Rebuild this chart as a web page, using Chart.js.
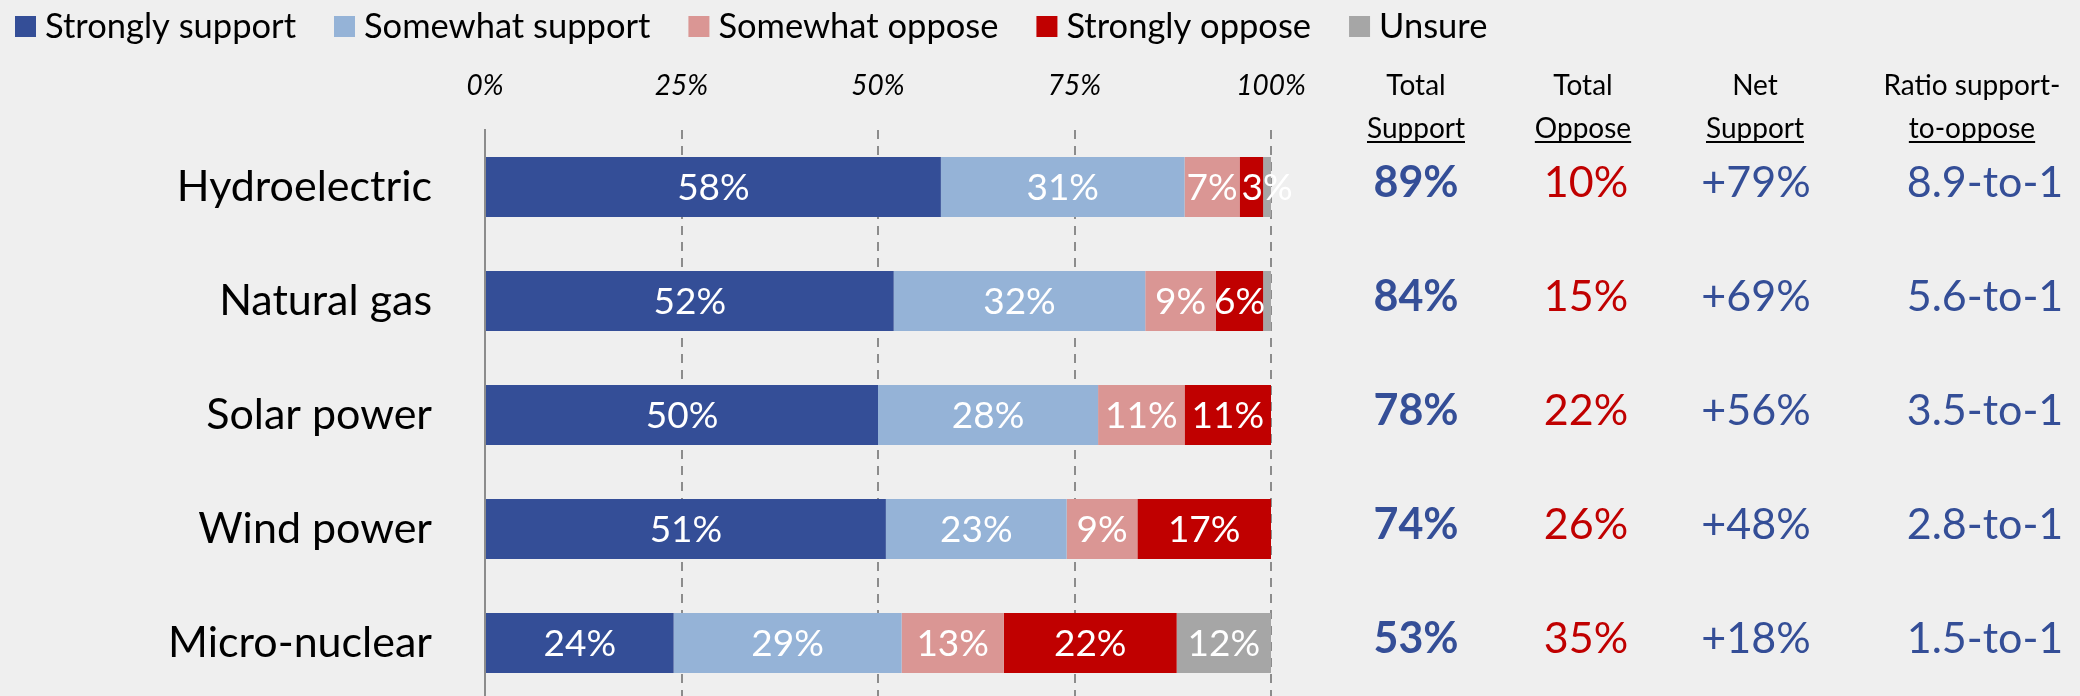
<!DOCTYPE html>
<html>
<head>
<meta charset="utf-8">
<script src="https://cdn.jsdelivr.net/npm/chart.js@4.4.1/dist/chart.umd.min.js"></script>
<style>
  html, body { margin: 0; padding: 0; background: #efefef; overflow: hidden; }
</style>
</head>
<body>
<canvas id="energy-bar" width="2080" height="700"></canvas>
<script>
var categories = ['Hydroelectric', 'Natural gas', 'Solar power', 'Wind power', 'Micro-nuclear'];
var strongSupport = [58, 52, 50, 51, 24];
var someSupport = [31, 32, 28, 23, 29];
var someOppose = [7, 9, 11, 9, 13];
var strongOppose = [3, 6, 11, 17, 22];
var unsure = [1, 1, 0, 0, 12];
var tickStep = 25;
var columnHeaders = [['Total', 'Support'], ['Total', 'Oppose'], ['Net', 'Support'], ['Ratio support-', 'to-oppose']];

var seriesNames = ['Strongly support', 'Somewhat support', 'Somewhat oppose', 'Strongly oppose', 'Unsure'];
var seriesColors = ['#344e97', '#95b3d7', '#da9694', '#c00000', '#a6a6a6'];
var blue = '#344e97';
var red = '#c00000';
var font = "Lato, 'Noto Sans', sans-serif";

var seriesData = [strongSupport, someSupport, someOppose, strongOppose, unsure];

// summary columns on the right
var totalSupport = [], totalOppose = [], netSupport = [], ratio = [];
categories.forEach(function (c, i) {
    var s = strongSupport[i] + someSupport[i];
    var o = someOppose[i] + strongOppose[i];
    totalSupport.push(s + '%');
    totalOppose.push(o + '%');
    netSupport.push((s - o >= 0 ? '+' : '') + (s - o) + '%');
    ratio.push((s / o).toFixed(1) + '-to-1');
});
var columns = [
    { values: totalSupport, color: blue, bold: true, x: 1416 },
    { values: totalOppose, color: red, bold: false, x: 1586 },
    { values: netSupport, color: blue, bold: false, x: 1756 },
    { values: ratio, color: blue, bold: false, x: 1985 }
];
var headerX = [1416, 1583, 1755, 1972];

var legendPlugin = {
    id: 'topLegend',
    afterDraw: function (chart) {
        var ctx = chart.ctx;
        var x = 15;
        ctx.save();
        ctx.font = '34.5px ' + font;
        ctx.textBaseline = 'middle';
        ctx.textAlign = 'left';
        chart.data.datasets.forEach(function (ds) {
            ctx.fillStyle = ds.backgroundColor;
            ctx.fillRect(x, 16, 21, 21);
            ctx.fillStyle = '#000';
            ctx.fillText(ds.label, x + 30, 27);
            x += 30 + ctx.measureText(ds.label).width + 38;
        });
        ctx.restore();
    }
};

var barLabelPlugin = {
    id: 'barLabels',
    afterDatasetsDraw: function (chart) {
        var ctx = chart.ctx;
        ctx.save();
        ctx.font = '37px ' + font;
        ctx.fillStyle = '#fff';
        ctx.textBaseline = 'middle';
        chart.data.datasets.forEach(function (ds, d) {
            chart.getDatasetMeta(d).data.forEach(function (bar, i) {
                var v = ds.data[i];
                if (v < 3) return;
                var txt = v + '%';
                var seg = bar.x - bar.base;
                if (ctx.measureText(txt).width > seg * 1.5) {
                    // too narrow: start the label at the segment's left edge
                    ctx.textAlign = 'left';
                    ctx.fillText(txt, bar.base + 2, bar.y + 1);
                } else {
                    ctx.textAlign = 'center';
                    ctx.fillText(txt, (bar.x + bar.base) / 2, bar.y + 1);
                }
            });
        });
        ctx.restore();
    }
};

var columnsPlugin = {
    id: 'summaryColumns',
    afterDraw: function (chart) {
        var ctx = chart.ctx;
        var top = chart.chartArea.top;
        var yScale = chart.scales.y;
        ctx.save();
        ctx.textAlign = 'center';
        ctx.textBaseline = 'middle';
        ctx.font = '28px ' + font;
        ctx.fillStyle = '#000';
        ctx.strokeStyle = '#000';
        ctx.lineWidth = 2;
        columnHeaders.forEach(function (h, c) {
            ctx.fillText(h[0], headerX[c], top - 44);
            ctx.fillText(h[1], headerX[c], top - 1);
            var w = ctx.measureText(h[1]).width;
            ctx.beginPath();
            ctx.moveTo(headerX[c] - w / 2, top + 12);
            ctx.lineTo(headerX[c] + w / 2, top + 12);
            ctx.stroke();
        });
        columns.forEach(function (col) {
            ctx.font = (col.bold ? 'bold ' : '') + '43px ' + font;
            ctx.fillStyle = col.color;
            col.values.forEach(function (v, i) {
                ctx.fillText(v, col.x, yScale.getPixelForValue(i) - 4);
            });
        });
        ctx.restore();
    }
};

var ctx = document.getElementById('energy-bar').getContext('2d');
var chart = new Chart(ctx, {
    type: 'bar',
    data: {
        labels: categories,
        datasets: seriesNames.map(function (name, k) {
            return {
                label: name,
                data: seriesData[k],
                backgroundColor: seriesColors[k],
                borderWidth: 0,
                barPercentage: 1,
                categoryPercentage: 0.526
            };
        })
    },
    options: {
        indexAxis: 'y',
        responsive: false,
        animation: false,
        layout: { padding: { left: 0, right: 809, top: 0, bottom: 0 } },
        plugins: {
            legend: { display: false },
            tooltip: { enabled: false }
        },
        scales: {
            x: {
                position: 'top',
                stacked: true,
                min: 0,
                max: 100,
                ticks: {
                    stepSize: tickStep,
                    padding: 27,
                    color: '#000',
                    font: { family: font, size: 28, style: 'italic' },
                    callback: function (v) { return v + '%'; }
                },
                grid: {
                    drawTicks: false,
                    lineWidth: 2,
                    color: function (c) { return c.tick && c.tick.value === 0 ? 'rgba(0,0,0,0)' : '#8c8c8c'; }
                },
                border: { display: false, dash: [9, 7] },
                afterFit: function (scale) { scale.height = 130; }
            },
            y: {
                stacked: true,
                grid: { display: false },
                border: { display: true, color: '#8c8c8c', width: 2 },
                ticks: {
                    padding: 45,
                    color: '#000',
                    font: { family: font, size: 43 }
                },
                afterFit: function (scale) {
                    scale.width = 485;
                    // keep the label padding from shrinking the plot vertically
                    scale.paddingTop = 0;
                    scale.paddingBottom = 0;
                }
            }
        }
    },
    plugins: [legendPlugin, barLabelPlugin, columnsPlugin]
});
</script>
</body>
</html>
